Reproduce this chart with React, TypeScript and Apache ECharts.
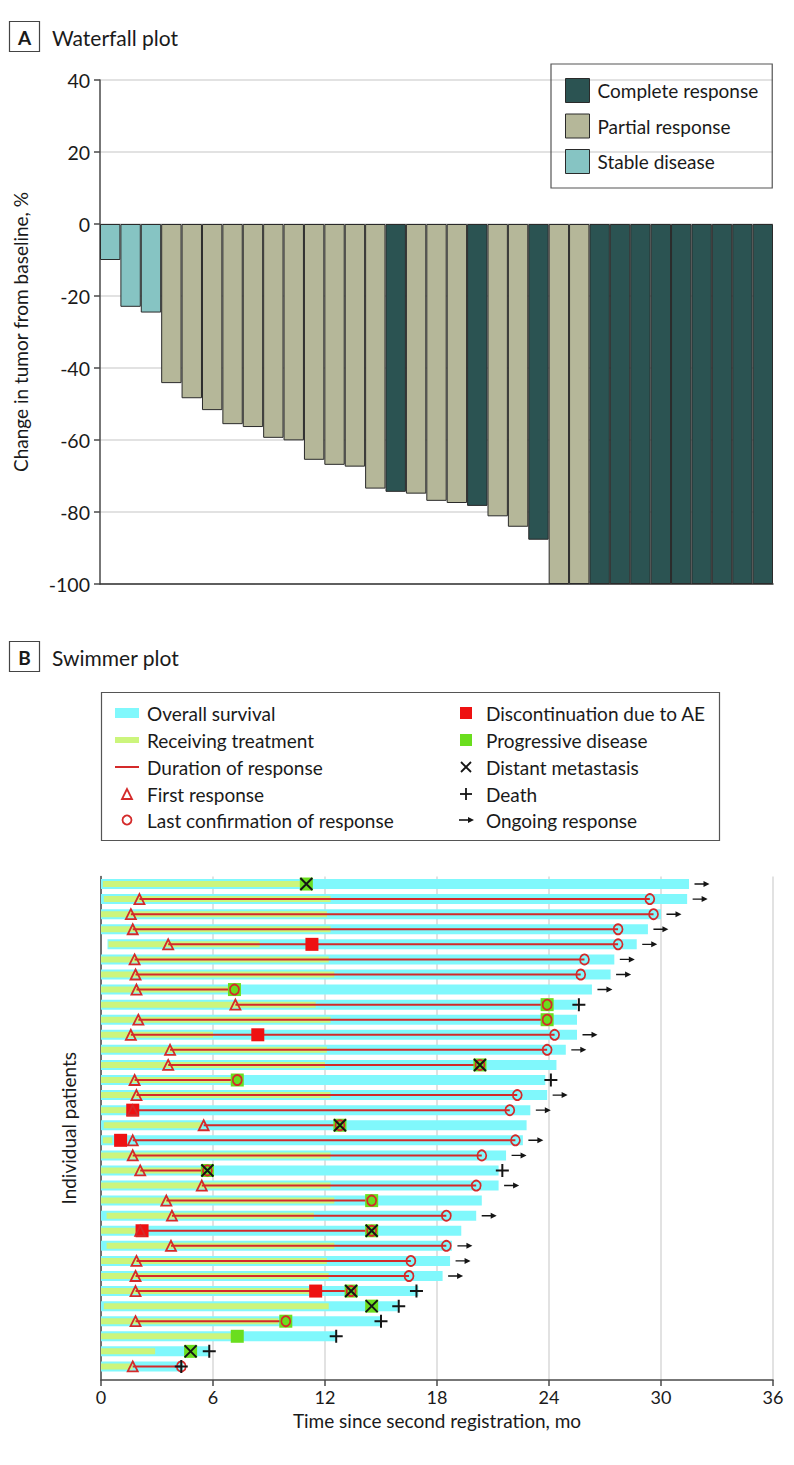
import React, { useEffect, useRef } from 'react';
import * as echarts from 'echarts';

const FONT = 'Lato, "Noto Sans", sans-serif';
const TXT = '#1a1a1a';
const AXIS = '#4a4a4a';
const GRIDC = '#d9d9d9';

// ---------- Panel A: waterfall ----------
const responseNames = ['Complete response', 'Partial response', 'Stable disease'];
const responseCodes = ['CR', 'PR', 'SD'];
const responseColors = ['#2b5352', '#b5b799', '#86c4c3'];
const yTicks = [-100, -80, -60, -40, -20, 0, 20, 40];
const tumorChange = [
  -10, -23, -24.6, -44.2, -48.4, -51.7, -55.6, -56.4, -59.4, -60.1, -65.5,
  -66.9, -67.4, -73.5, -74.4, -74.9, -76.9, -77.5, -78.3, -81.2, -84.1, -87.7,
  -100, -100, -100, -100, -100, -100, -100, -100, -100, -100, -100,
];
const bestResponse = [
  'SD', 'SD', 'SD', 'PR', 'PR', 'PR', 'PR', 'PR', 'PR', 'PR', 'PR',
  'PR', 'PR', 'PR', 'CR', 'PR', 'PR', 'PR', 'CR', 'PR', 'PR', 'CR',
  'PR', 'PR', 'CR', 'CR', 'CR', 'CR', 'CR', 'CR', 'CR', 'CR', 'CR',
];
const patients = tumorChange.map((_, i) => `P${i + 1}`);

// ---------- Panel B: swimmer ----------
const xTicks = [0, 6, 12, 18, 24, 30, 36];
const osStart = [0, 0, 0, 0, 0.35, 0, 0, 0, 0, 0, 0, 0, 0, 0, 0, 0, 0, 0, 0, 0, 0, 0, 0, 0, 0, 0, 0, 0, 0, 0, 0, 0, 0];
const osEnd = [
  31.5, 31.4, 30.0, 29.3, 28.7, 27.5, 27.3, 26.3, 25.5, 25.5, 25.5, 24.9, 24.4, 23.8, 23.9, 23.0, 22.8,
  22.6, 21.7, 21.3, 21.3, 20.4, 20.1, 19.3, 18.8, 18.7, 18.3, 17.0, 15.9, 15.0, 12.6, 5.8, 4.4,
];
const txStart = [
  0.1, 0.15, 0, 0, 0.4, 0, 0, 0, 0, 0, 0, 0, 0, 0, 0, 0, 0.15, 0.1, 0, 0, 0, 0, 0.3, 0, 0.3, 0, 0, 0,
  0.15, 0, 0, 0, 0,
];
const txEnd = [
  11.2, 12.3, 12.1, 12.3, 8.5, 12.2, 12.5, 6.8, 11.5, 12.3, 6.0, 12.1, 12.0, 7.0, 12.3, 1.5, 5.4,
  0.6, 12.3, 5.4, 12.3, 12.5, 11.4, 2.0, 12.5, 12.1, 12.2, 11.3, 12.2, 9.5, 7.0, 2.9, 1.7,
];
const firstResponse = [
  null, 2.06, 1.6, 1.7, 3.6, 1.8, 1.85, 1.9, 7.2, 2.0, 1.6, 3.7, 3.6, 1.8, 1.9, 1.7, 5.5,
  1.7, 1.7, 2.1, 5.4, 3.5, 3.8, 2.1, 3.75, 1.9, 1.85, 1.85, null, 1.85, null, null, 1.7,
];
const lastConfirmation = [
  null, 29.4, 29.6, 27.7, 27.7, 25.9, 25.7, 7.15, 23.9, 23.9, 24.3, 23.9, 20.3, 7.3, 22.3, 21.9, 12.8,
  22.2, 20.4, 5.7, 20.1, 14.5, 18.5, 14.5, 18.5, 16.6, 16.5, 13.4, null, 9.9, null, null, 4.3,
];
const aeDiscontinuation = [
  null, null, null, null, 11.3, null, null, null, null, null, 8.4, null, null, null, null, 1.7, null,
  1.05, null, null, null, null, null, 2.2, null, null, null, 11.5, null, null, null, null, null,
];
const progression = [
  11.0, null, null, null, null, null, null, 7.15, 23.9, 23.9, null, null, 20.3, 7.3, null, null, 12.8,
  null, null, 5.7, null, 14.5, null, 14.5, null, null, null, 13.4, 14.5, 9.9, 7.3, 4.8, null,
];
const metastasis = [
  11.0, null, null, null, null, null, null, null, null, null, null, null, 20.3, null, null, null, 12.8,
  null, null, 5.7, null, null, null, 14.5, null, null, null, 13.4, 14.5, null, null, 4.8, null,
];
const death = [
  null, null, null, null, null, null, null, null, 25.6, null, null, null, null, 24.1, null, null, null,
  null, null, 21.5, null, null, null, null, null, null, null, 16.9, 15.95, 15.0, 12.6, 5.8, 4.3,
];
const ongoing = [
  1, 1, 1, 1, 1, 1, 1, 1, 0, 0, 1, 1, 0, 0, 1, 1, 0,
  1, 1, 0, 1, 0, 1, 0, 1, 1, 1, 0, 0, 0, 0, 0, 0,
];

const legendLeftLabels = ['Overall survival', 'Receiving treatment', 'Duration of response', 'First response', 'Last confirmation of response'];
const legendRightLabels = ['Discontinuation due to AE', 'Progressive disease', 'Distant metastasis', 'Death', 'Ongoing response'];

const C_OS = '#80f8fc';
const C_TX = '#ccf57c';
const C_RED = '#d42a2a';
const C_AE = '#ee1111';
const C_PD = '#6ade1e';
const C_BLK = '#151515';

const pts = (arr: (number | null)[]) =>
  arr.map((v, i) => (v == null ? null : [v, i + 1])).filter((d) => d !== null) as number[][];

const rectRender = (h: number, color: string) => (_p: any, api: any) => {
  const s = api.coord([api.value(0), api.value(2)]);
  const e = api.coord([api.value(1), api.value(2)]);
  return {
    type: 'rect',
    shape: { x: s[0], y: s[1] - h / 2, width: e[0] - s[0], height: h },
    style: { fill: color },
  };
};

const lineRender = (_p: any, api: any) => {
  const s = api.coord([api.value(0), api.value(2)]);
  const e = api.coord([api.value(1), api.value(2)]);
  return {
    type: 'line',
    shape: { x1: s[0], y1: s[1], x2: e[0], y2: e[1] },
    style: { stroke: C_RED, lineWidth: 2 },
  };
};

const textEl = (x: number, y: number, text: string, size = 19, weight: any = 'normal', align = 'left') => ({
  type: 'text',
  x,
  y,
  style: { text, fontSize: size, fontFamily: FONT, fontWeight: weight, fill: TXT, align, verticalAlign: 'middle' },
});

const LEG_Y = [713, 740, 767, 794, 820];

function buildGraphic() {
  const g: any[] = [
    { type: 'rect', shape: { x: 9.5, y: 21.5, width: 30, height: 30 }, style: { fill: '#fff', stroke: '#444', lineWidth: 1.2 } },
    textEl(24.5, 37, 'A', 19, 'bold', 'center'),
    textEl(52, 37, 'Waterfall plot', 21),
    { type: 'rect', shape: { x: 9.5, y: 641.5, width: 30, height: 30 }, style: { fill: '#fff', stroke: '#444', lineWidth: 1.2 } },
    textEl(24.5, 657, 'B', 19, 'bold', 'center'),
    textEl(52, 657, 'Swimmer plot', 21),
    { type: 'rect', shape: { x: 101.5, y: 692.5, width: 618, height: 148 }, style: { fill: 'none', stroke: '#555', lineWidth: 1.2 } },
    // left column icons
    { type: 'rect', shape: { x: 115, y: LEG_Y[0] - 5, width: 24, height: 10 }, style: { fill: C_OS } },
    { type: 'rect', shape: { x: 115, y: LEG_Y[1] - 3, width: 24, height: 6 }, style: { fill: C_TX } },
    { type: 'line', shape: { x1: 115, y1: LEG_Y[2], x2: 139, y2: LEG_Y[2] }, style: { stroke: C_RED, lineWidth: 2 } },
    { type: 'polygon', shape: { points: [[127, LEG_Y[3] - 5], [122, LEG_Y[3] + 5], [132, LEG_Y[3] + 5]] }, style: { fill: 'none', stroke: C_RED, lineWidth: 1.8 } },
    { type: 'circle', shape: { cx: 127, cy: LEG_Y[4], r: 4.5 }, style: { fill: 'none', stroke: C_RED, lineWidth: 1.8 } },
    // right column icons
    { type: 'rect', shape: { x: 460, y: LEG_Y[0] - 6, width: 12, height: 12 }, style: { fill: C_AE } },
    { type: 'rect', shape: { x: 460, y: LEG_Y[1] - 6, width: 12, height: 12 }, style: { fill: C_PD } },
    { type: 'line', shape: { x1: 461, y1: LEG_Y[2] - 5, x2: 471, y2: LEG_Y[2] + 5 }, style: { stroke: C_BLK, lineWidth: 1.8 } },
    { type: 'line', shape: { x1: 471, y1: LEG_Y[2] - 5, x2: 461, y2: LEG_Y[2] + 5 }, style: { stroke: C_BLK, lineWidth: 1.8 } },
    { type: 'line', shape: { x1: 466, y1: LEG_Y[3] - 6, x2: 466, y2: LEG_Y[3] + 6 }, style: { stroke: C_BLK, lineWidth: 1.8 } },
    { type: 'line', shape: { x1: 460, y1: LEG_Y[3], x2: 472, y2: LEG_Y[3] }, style: { stroke: C_BLK, lineWidth: 1.8 } },
    { type: 'line', shape: { x1: 459, y1: LEG_Y[4], x2: 469, y2: LEG_Y[4] }, style: { stroke: C_BLK, lineWidth: 1.6 } },
    { type: 'polygon', shape: { points: [[468, LEG_Y[4] - 3], [474, LEG_Y[4]], [468, LEG_Y[4] + 3]] }, style: { fill: C_BLK } },
  ];
  legendLeftLabels.forEach((t, i) => g.push(textEl(147, LEG_Y[i], t)));
  legendRightLabels.forEach((t, i) => g.push(textEl(486, LEG_Y[i], t)));
  return g;
}

function buildOption() {
  const waterfallSeries = responseNames.map((name, k) => ({
    type: 'bar',
    name,
    xAxisIndex: 0,
    yAxisIndex: 0,
    barGap: '-100%',
    barCategoryGap: '0%',
    silent: true,
    itemStyle: { color: responseColors[k], borderColor: '#2a2a2a', borderWidth: 1 },
    data: tumorChange.map((v, i) => (bestResponse[i] === responseCodes[k] ? v : '-')),
  }));

  const rows = osEnd.map((_, i) => i + 1);
  const swimmerSeries: any[] = [
    {
      type: 'custom', name: legendLeftLabels[0], xAxisIndex: 1, yAxisIndex: 1, z: 1, silent: true,
      renderItem: rectRender(10, C_OS),
      encode: { x: [0, 1], y: 2 },
      data: rows.map((r, i) => [osStart[i], osEnd[i], r]),
    },
    {
      type: 'custom', name: legendLeftLabels[1], xAxisIndex: 1, yAxisIndex: 1, z: 2, silent: true,
      renderItem: rectRender(6, C_TX),
      encode: { x: [0, 1], y: 2 },
      data: rows.map((r, i) => [txStart[i], txEnd[i], r]),
    },
    {
      type: 'custom', name: legendLeftLabels[2], xAxisIndex: 1, yAxisIndex: 1, z: 3, silent: true,
      renderItem: lineRender,
      encode: { x: [0, 1], y: 2 },
      data: rows
        .map((r, i) => (firstResponse[i] == null || lastConfirmation[i] == null ? null : [firstResponse[i], lastConfirmation[i], r]))
        .filter((d) => d !== null),
    },
    {
      type: 'scatter', name: legendRightLabels[0], xAxisIndex: 1, yAxisIndex: 1, z: 4, silent: true,
      symbol: 'rect', symbolSize: 13, itemStyle: { color: C_AE, opacity: 1 },
      data: pts(aeDiscontinuation),
    },
    {
      type: 'scatter', name: legendRightLabels[1], xAxisIndex: 1, yAxisIndex: 1, z: 5, silent: true,
      symbol: 'rect', symbolSize: 13, itemStyle: { color: C_PD, opacity: 1 },
      data: pts(progression),
    },
    {
      type: 'scatter', name: legendLeftLabels[3], xAxisIndex: 1, yAxisIndex: 1, z: 6, silent: true,
      symbol: 'triangle', symbolSize: [10, 10],
      itemStyle: { color: 'rgba(0,0,0,0)', borderColor: C_RED, borderWidth: 1.8, opacity: 1 },
      data: pts(firstResponse),
    },
    {
      type: 'scatter', name: legendLeftLabels[4], xAxisIndex: 1, yAxisIndex: 1, z: 7, silent: true,
      symbol: 'circle', symbolSize: [9, 10],
      itemStyle: { color: 'rgba(0,0,0,0)', borderColor: C_RED, borderWidth: 1.8, opacity: 1 },
      data: pts(lastConfirmation),
    },
    {
      type: 'scatter', name: legendRightLabels[2], xAxisIndex: 1, yAxisIndex: 1, z: 8, silent: true,
      symbol: 'path://M0,0L10,10M10,0L0,10', symbolSize: 12,
      itemStyle: { color: 'rgba(0,0,0,0)', borderColor: C_BLK, borderWidth: 2, opacity: 1 },
      data: pts(metastasis),
    },
    {
      type: 'scatter', name: legendRightLabels[3], xAxisIndex: 1, yAxisIndex: 1, z: 9, silent: true,
      symbol: 'path://M5,0L5,10M0,5L10,5', symbolSize: 13,
      itemStyle: { color: 'rgba(0,0,0,0)', borderColor: C_BLK, borderWidth: 2, opacity: 1 },
      data: pts(death),
    },
    {
      type: 'scatter', name: legendRightLabels[4], xAxisIndex: 1, yAxisIndex: 1, z: 9, silent: true,
      symbol: 'path://M0,2.3L9,2.3L9,0L15,3L9,6L9,3.7L0,3.7Z', symbolSize: [15, 6], symbolOffset: [13, 0],
      itemStyle: { color: C_BLK, opacity: 1 },
      data: pts(osEnd.map((v, i) => (ongoing[i] ? v : null))),
    },
  ];

  return {
    animation: false,
    backgroundColor: '#fff',
    textStyle: { fontFamily: FONT, color: TXT },
    grid: [
      { left: 100, top: 80, width: 673, height: 504 },
      { left: 101, top: 876.5, width: 672, height: 503.5 },
    ],
    xAxis: [
      {
        gridIndex: 0, type: 'category', data: patients,
        axisLine: { onZero: false, lineStyle: { color: '#333', width: 1.5 } },
        axisTick: { show: false }, axisLabel: { show: false }, splitLine: { show: false },
      },
      {
        gridIndex: 1, type: 'value', min: xTicks[0], max: xTicks[xTicks.length - 1], interval: 6,
        axisLine: { lineStyle: { color: AXIS, width: 1.5 } },
        axisTick: { length: 6, lineStyle: { color: AXIS, width: 1.5 } },
        axisLabel: { fontSize: 18, color: TXT, margin: 8, fontFamily: FONT },
        splitLine: { show: true, lineStyle: { color: GRIDC, width: 1.5 } },
        name: 'Time since second registration, mo', nameLocation: 'middle', nameGap: 31,
        nameTextStyle: { fontSize: 19, color: TXT, fontFamily: FONT },
      },
    ],
    yAxis: [
      {
        gridIndex: 0, type: 'value', min: yTicks[0], max: yTicks[yTicks.length - 1], interval: 20,
        axisLine: { show: true, onZero: false, lineStyle: { color: AXIS, width: 1.5 } },
        axisTick: { show: true, length: 6, lineStyle: { color: AXIS, width: 1.5 } },
        axisLabel: { fontSize: 19.5, color: TXT, margin: 10, fontFamily: FONT },
        splitLine: { show: true, lineStyle: { color: GRIDC, width: 1.5 } },
        name: 'Change in tumor from baseline, %', nameLocation: 'middle', nameGap: 70,
        nameTextStyle: { fontSize: 19, color: TXT, fontFamily: FONT },
      },
      {
        gridIndex: 1, type: 'value', min: 0.5, max: 33.9, inverse: true,
        axisLine: { show: true, onZero: false, lineStyle: { color: AXIS, width: 1.5 } },
        axisTick: { show: false }, axisLabel: { show: false }, splitLine: { show: false },
        name: 'Individual patients', nameLocation: 'middle', nameGap: 23,
        nameTextStyle: { fontSize: 19, color: TXT, fontFamily: FONT },
      },
    ],
    legend: [
      {
        orient: 'vertical', left: 551, top: 64, padding: [14, 14, 14, 14],
        itemWidth: 24, itemHeight: 24, itemGap: 10.5, icon: 'rect',
        borderColor: '#555', borderWidth: 1.2, selectedMode: false,
        itemStyle: { borderColor: '#2a2a2a', borderWidth: 1 },
        textStyle: { fontSize: 19, color: TXT, fontFamily: FONT, padding: [0, 0, 0, 3] },
        data: responseNames,
      },
    ],
    graphic: buildGraphic(),
    series: [...waterfallSeries, ...swimmerSeries],
  };
}

export default function App() {
  const ref = useRef<HTMLDivElement>(null);
  useEffect(() => {
    if (!ref.current) return;
    const chart = echarts.init(ref.current, null, { renderer: 'svg' });
    chart.setOption(buildOption() as any);
    return () => chart.dispose();
  }, []);
  return (
    <div
      ref={ref}
      style={{ position: 'absolute', left: 0, top: 0, width: 794, height: 1465, background: '#fff' }}
    />
  );
}
